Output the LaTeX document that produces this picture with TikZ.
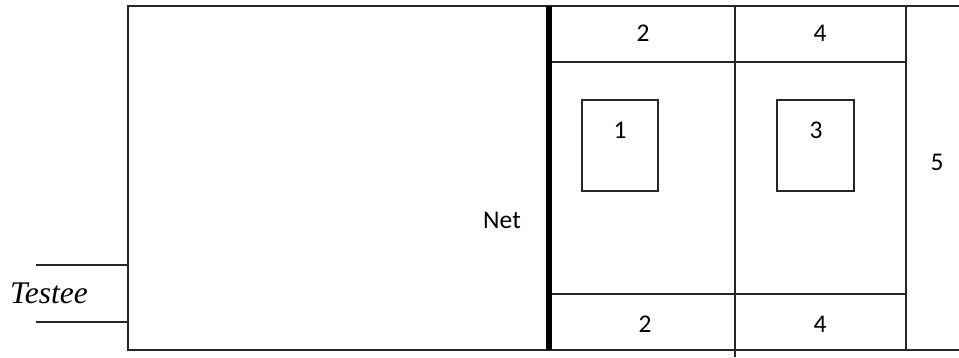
\documentclass[tikz,border=0pt]{standalone}
\usepackage{fontspec}
\setmainfont{Carlito}
\newfontfamily\timesfont{Liberation Serif}
\begin{document}
\begin{tikzpicture}[x=1pt,y=-1pt,
  thin line/.style={line width=1.6pt,draw=black!85},
  net line/.style={line width=6pt,draw=black},
  lbl/.style={inner sep=0pt,font=\fontsize{25.5}{28}\selectfont},
  testeelbl/.style={inner sep=0pt,font=\timesfont\itshape\fontsize{31.5}{34}\selectfont}]
\useasboundingbox (0,0) rectangle (959,357);
% outer frame
\draw[thin line] (959,6) -- (128,6) -- (128,350) -- (959,350);
% testee lines
\draw[thin line] (36,265) -- (128,265);
\draw[thin line] (36,322) -- (128,322);
% net
\draw[net line] (549,6) -- (549,350);
% vertical dividers
\draw[thin line] (735,6) -- (735,357);
\draw[thin line] (906,6) -- (906,350);
% horizontal dividers
\draw[thin line] (552,62) -- (906,62);
\draw[thin line] (552,294) -- (906,294);
% boxes
\draw[thin line] (582,100) rectangle (658,191);
\draw[thin line] (777,100) rectangle (854,191);
% labels
\node[lbl] (t2) at (643,33) {2};
\node[lbl] (t4) at (820,33) {4};
\node[lbl] (b2) at (645,324) {2};
\node[lbl] (b4) at (820,324) {4};
\node[lbl] (one) at (620,130) {1};
\node[lbl] (three) at (816,130) {3};
\node[lbl] (five) at (937,162) {5};
\node[lbl] (net) at (502,220) {Net};
\node[testeelbl] (testee) at (49,293) {Testee};
\end{tikzpicture}
\end{document}
